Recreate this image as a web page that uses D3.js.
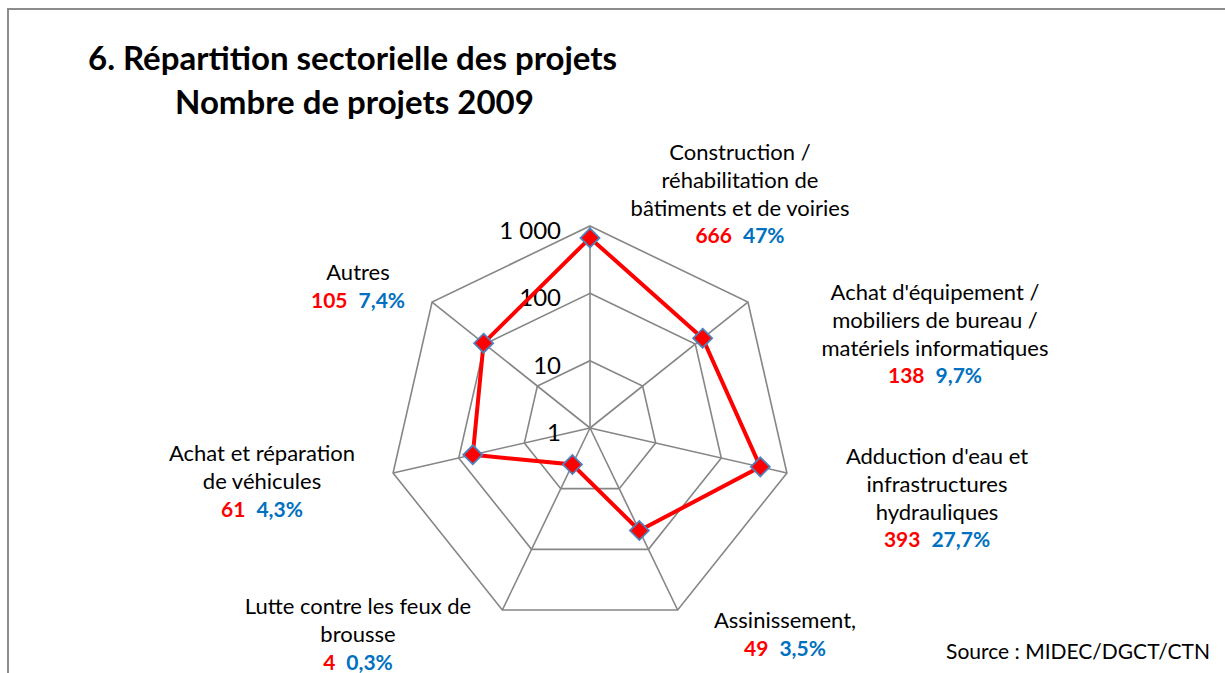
<!DOCTYPE html>
<html><head><meta charset="utf-8">
<script src="https://cdn.jsdelivr.net/npm/d3@7"></script>
<style>
body{margin:0;background:#fff;}
svg{display:block;font-family:Lato,"Open Sans",sans-serif;}
</style></head>
<body><svg id="c" width="1225" height="673"></svg>
<script>
const categories = [
  ["Construction /","réhabilitation de","bâtiments et de voiries"],
  ["Achat d'équipement /","mobiliers de bureau /","matériels informatiques"],
  ["Adduction d'eau et","infrastructures","hydrauliques"],
  ["Assinissement,"],
  ["Lutte contre les feux de","brousse"],
  ["Achat et réparation","de véhicules"],
  ["Autres"]
];
const values = [666, 138, 393, 49, 4, 61, 105];
const percents = ["47%", "9,7%", "27,7%", "3,5%", "0,3%", "4,3%", "7,4%"];
const tickValues = [1, 10, 100, 1000];
const tickLabels = ["1", "10", "100", "1 000"];
const titleLines = ["6. Répartition sectorielle des projets", "Nombre de projets 2009"];
const sourceText = "Source : MIDEC/DGCT/CTN";

// label anchor positions (layout)
const labelPos = [
  {x:740, y:152}, {x:935, y:292}, {x:937, y:456}, {x:785, y:620},
  {x:358, y:606}, {x:262, y:453}, {x:358, y:272}
];

const svg = d3.select("#c");
const cx = 590, cy = 428;
const r = d3.scaleLog().domain([1, 1000]).range([0, 202]);
const n = categories.length;
const ang = d3.scaleLinear().domain([0, n]).range([0, 2*Math.PI]);
const pt = (i, v) => [cx + r(v)*Math.sin(ang(i)), cy - r(v)*Math.cos(ang(i))];

// frame
svg.append("path").attr("d", "M8,680 L8,9 L1230,9").attr("fill","none")
  .attr("stroke","#8c8c8c").attr("stroke-width",2);

// grid rings
const grid = svg.append("g").attr("stroke","#868686").attr("stroke-width",1.6).attr("fill","none");
tickValues.slice(1).forEach(t => {
  grid.append("path").attr("d", d3.line()(d3.range(n).map(i => pt(i, t))) + "Z");
});
d3.range(n).forEach(i => {
  const [x, y] = pt(i, 1000);
  grid.append("line").attr("x1", cx).attr("y1", cy).attr("x2", x).attr("y2", y);
});

// tick labels
svg.append("g").selectAll("text").data(tickValues).join("text")
  .attr("x", 561).attr("y", d => cy - r(d) + 13)
  .attr("text-anchor","end").attr("font-size", 24).attr("fill","#000")
  .text((d,i) => tickLabels[i]);

// series
const pts = values.map((v,i) => pt(i, v));
svg.append("path").attr("d", d3.line()(pts) + "Z")
  .attr("fill","none").attr("stroke","#ff0000").attr("stroke-width",4).attr("stroke-linejoin","miter");
svg.append("g").selectAll("path").data(pts).join("path")
  .attr("d", d3.symbol(d3.symbolDiamond2, 230)())
  .attr("transform", d => `translate(${d[0]},${d[1]})`)
  .attr("fill","#ff0000").attr("stroke","#4f81bd").attr("stroke-width",1.8);

// category labels
const lh = 27.8;
categories.forEach((lines, i) => {
  const g = svg.append("g");
  const p = labelPos[i];
  lines.forEach((l, k) => {
    g.append("text").attr("x", p.x).attr("y", p.y + k*lh + 8)
      .attr("text-anchor","middle").attr("font-size", 22).attr("fill","#000").text(l);
  });
  const t = g.append("text").attr("x", p.x).attr("y", p.y + lines.length*lh + 8)
    .attr("text-anchor","middle").attr("font-size", 21).attr("font-weight","bold");
  t.append("tspan").attr("fill","#ff0000").text(values[i]);
  t.append("tspan").attr("fill","#0070c0").attr("dx", 11).text(percents[i]);
});

// title
svg.append("text").attr("x", 88).attr("y", 70).attr("font-size", 33).attr("font-weight","bold")
  .attr("fill","#000").text(titleLines[0]);
svg.append("text").attr("x", 175).attr("y", 114).attr("font-size", 33).attr("font-weight","bold")
  .attr("fill","#000").text(titleLines[1]);

// source
svg.append("text").attr("x", 1210).attr("y", 659).attr("text-anchor","end")
  .attr("font-size", 21).attr("fill","#000").text(sourceText);
</script></body></html>
